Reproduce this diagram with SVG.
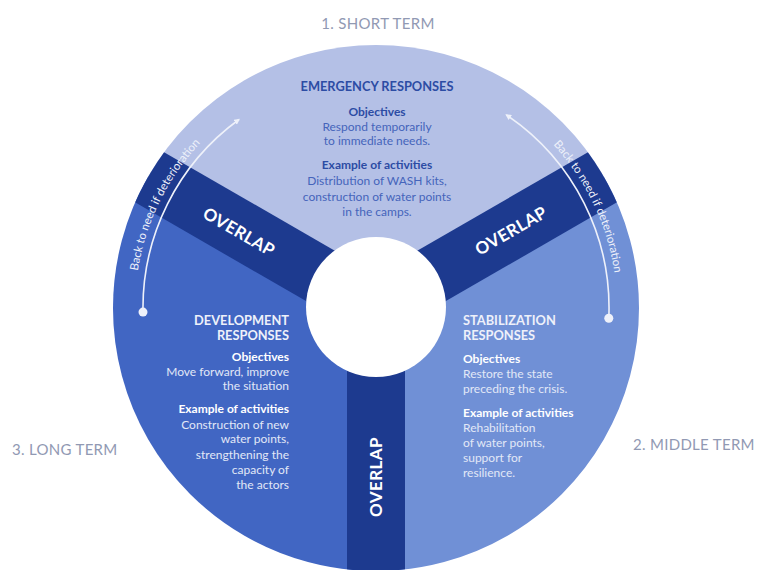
<svg xmlns="http://www.w3.org/2000/svg" xmlns:xlink="http://www.w3.org/1999/xlink" width="757" height="570" viewBox="0 0 757 570">
<style>
.term{font-family:Lato,"Open Sans",sans-serif;font-size:15px;fill:#9199b3;letter-spacing:0.3px}
.hd{font-family:Lato,"Open Sans",sans-serif;font-weight:bold;font-size:12.8px}
.ob{font-family:Lato,"Open Sans",sans-serif;font-weight:bold;font-size:12px}
.bd{font-family:Lato,"Open Sans",sans-serif;font-size:12px}
.ov{font-family:Lato,"Open Sans",sans-serif;font-weight:bold;font-size:17px;fill:#ffffff;letter-spacing:0.4px}
.back{font-family:Lato,"Open Sans",sans-serif;font-size:11.5px;fill:#eef1fa}
.arc{fill:none;stroke:#eef1fa;stroke-width:1.6}
</style>
<defs>
<clipPath id="disc"><circle cx="376" cy="308" r="263"/></clipPath>
<marker id="ah" viewBox="0 0 10 10" refX="8" refY="5" markerWidth="6" markerHeight="6" orient="auto" markerUnits="userSpaceOnUse">
<path d="M0,0 L10,5 L0,10 Z" fill="#eef1fa"/>
</marker>
<path id="tpL" d="M138.7,349.8 A241,241 0 0 1 262.9,95.2"/>
<path id="tpR" d="M491,96.2 A241,241 0 0 1 613,351.9"/>
</defs>
<rect width="757" height="570" fill="#ffffff"/>

<g id="sectors">
<path id="sector-short" d="M376,308 L148.23,176.5 A263,263 0 0 1 603.77,176.5 Z" fill="#b4c0e6"/>
<path id="sector-middle" d="M376,308 L603.77,176.5 A263,263 0 0 1 376,571 Z" fill="#7090d6"/>
<path id="sector-long" d="M376,308 L376,571 A263,263 0 0 1 148.23,176.5 Z" fill="#4166c3"/>
</g>

<g id="overlap-bands" clip-path="url(#disc)" fill="#1d3a8f">
<rect id="band-bottom" x="347" y="308" width="58" height="270"/>
<rect id="band-left" x="347" y="308" width="58" height="270" transform="rotate(120 376 308)"/>
<rect id="band-right" x="347" y="308" width="58" height="270" transform="rotate(240 376 308)"/>
</g>

<circle id="hub" cx="376" cy="307" r="70" fill="#ffffff"/>

<g id="connectors">
<path class="arc" d="M143,312.1 A233,233 0 0 1 239,119.5" marker-end="url(#ah)"/>
<circle cx="143" cy="312.1" r="4.5" fill="#eef1fa"/>
<path class="arc" d="M608.8,318.2 A233,233 0 0 0 506.3,114.8" marker-end="url(#ah)"/>
<circle cx="608.8" cy="318.2" r="4.5" fill="#eef1fa"/>
<text class="back"><textPath xlink:href="#tpL" href="#tpL" startOffset="50%" text-anchor="middle">Back to need if deterioration</textPath></text>
<text class="back"><textPath xlink:href="#tpR" href="#tpR" startOffset="50%" text-anchor="middle">Back to need if deterioration</textPath></text>
</g>

<g id="overlap-labels">
<text class="ov" x="0" y="0" text-anchor="middle" transform="translate(236,237) rotate(30)">OVERLAP</text>
<text class="ov" x="0" y="0" text-anchor="middle" transform="translate(514,236) rotate(-30)">OVERLAP</text>
<text class="ov" x="0" y="0" text-anchor="middle" transform="translate(382,477) rotate(-90)">OVERLAP</text>
</g>

<g id="node-short">
<text class="term" x="378" y="29" text-anchor="middle">1. SHORT TERM</text>
<text class="hd" x="377" y="91" text-anchor="middle" fill="#2c4ca4">EMERGENCY RESPONSES</text>
<text class="ob" x="377" y="116" text-anchor="middle" fill="#2c4ca4">Objectives</text>
<text class="bd" x="377" y="131" text-anchor="middle" fill="#4564bb">Respond temporarily</text>
<text class="bd" x="377" y="145" text-anchor="middle" fill="#4564bb">to immediate needs.</text>
<text class="ob" x="377" y="169" text-anchor="middle" fill="#2c4ca4">Example of activities</text>
<text class="bd" x="377" y="185" text-anchor="middle" fill="#4564bb">Distribution of WASH kits,</text>
<text class="bd" x="377" y="201" text-anchor="middle" fill="#4564bb">construction of water points</text>
<text class="bd" x="377" y="216" text-anchor="middle" fill="#4564bb">in the camps.</text>
</g>

<g id="node-long" text-anchor="end">
<text class="term" x="12" y="455" text-anchor="start">3. LONG TERM</text>
<text class="hd" x="289" y="325" fill="#eef1fa">DEVELOPMENT</text>
<text class="hd" x="289" y="340" fill="#eef1fa">RESPONSES</text>
<text class="ob" x="289" y="361" fill="#ffffff">Objectives</text>
<text class="bd" x="289" y="376" fill="#e2e8f7">Move forward, improve</text>
<text class="bd" x="289" y="390" fill="#e2e8f7">the situation</text>
<text class="ob" x="289" y="413" fill="#ffffff">Example of activities</text>
<text class="bd" x="289" y="429" fill="#e2e8f7">Construction of new</text>
<text class="bd" x="289" y="443" fill="#e2e8f7">water points,</text>
<text class="bd" x="289" y="459" fill="#e2e8f7">strengthening the</text>
<text class="bd" x="289" y="474" fill="#e2e8f7">capacity of</text>
<text class="bd" x="289" y="489" fill="#e2e8f7">the actors</text>
</g>

<g id="node-middle">
<text class="term" x="633" y="450">2. MIDDLE TERM</text>
<text class="hd" x="463" y="325" fill="#eef1fa">STABILIZATION</text>
<text class="hd" x="463" y="340" fill="#eef1fa">RESPONSES</text>
<text class="ob" x="463" y="363" fill="#ffffff">Objectives</text>
<text class="bd" x="463" y="378" fill="#e2e8f7">Restore the state</text>
<text class="bd" x="463" y="393" fill="#e2e8f7">preceding the crisis.</text>
<text class="ob" x="463" y="417" fill="#ffffff">Example of activities</text>
<text class="bd" x="463" y="432" fill="#e2e8f7">Rehabilitation</text>
<text class="bd" x="463" y="447" fill="#e2e8f7">of water points,</text>
<text class="bd" x="463" y="462" fill="#e2e8f7">support for</text>
<text class="bd" x="463" y="477" fill="#e2e8f7">resilience.</text>
</g>
</svg>
